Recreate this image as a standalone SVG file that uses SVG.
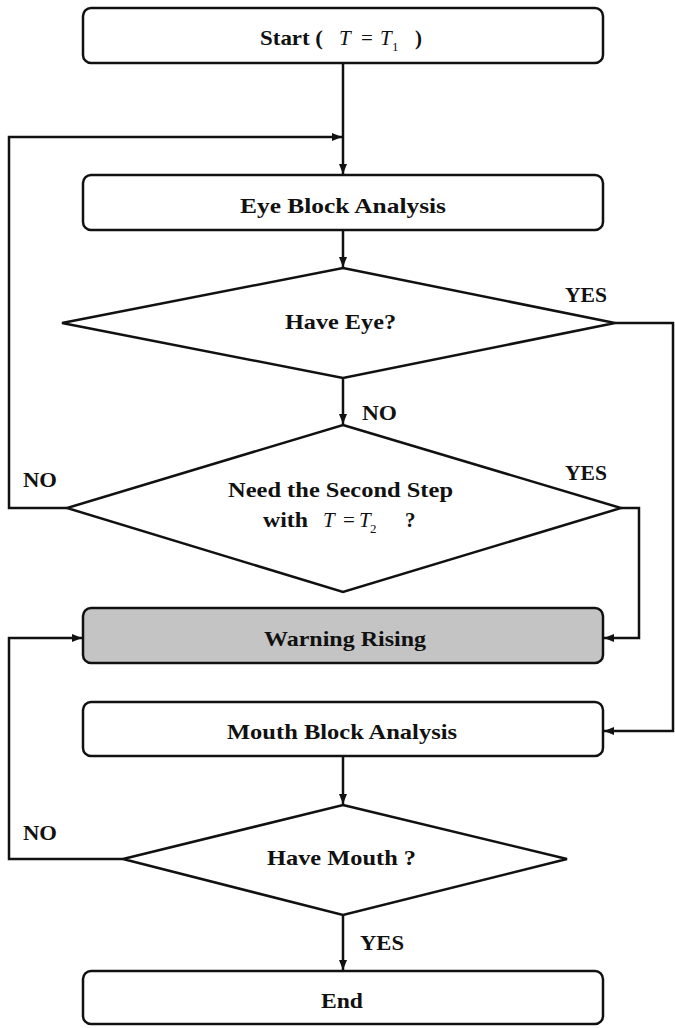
<svg xmlns="http://www.w3.org/2000/svg" width="675" height="1028" viewBox="0 0 675 1028">
<style>
.box{fill:#fff;stroke:#111;stroke-width:2.5}
.grey{fill:#c4c4c4}
.dia{fill:#fff;stroke:#111;stroke-width:2.5;stroke-linejoin:miter}
.c{fill:none;stroke:#111;stroke-width:2.5}
.t{font-family:"Liberation Serif","Times New Roman",serif;font-weight:bold;font-size:21px;fill:#111}
.i{font-style:italic;font-weight:normal}
.n{font-weight:normal}
.s{font-size:13px;font-weight:normal}
</style>
<defs>
<marker id="ah" viewBox="0 0 10 10" refX="10" refY="5" markerWidth="10" markerHeight="10" markerUnits="userSpaceOnUse" orient="auto">
<path d="M0,1 L10,5 L0,9 z" fill="#111"/>
</marker>
</defs>
<rect width="675" height="1028" fill="#fff"/>
<g id="connectors">
<path class="c" d="M343,63 V174" marker-end="url(#ah)"/>
<path class="c" d="M67,508 H9 V137 H342" marker-end="url(#ah)"/>
<path class="c" d="M343,230 V267" marker-end="url(#ah)"/>
<path class="c" d="M343,378 V424" marker-end="url(#ah)"/>
<path class="c" d="M615,323 H673 V731 H604" marker-end="url(#ah)"/>
<path class="c" d="M621,508 H639 V638 H604" marker-end="url(#ah)"/>
<path class="c" d="M343,756 V804" marker-end="url(#ah)"/>
<path class="c" d="M123,859 H9 V638 H82" marker-end="url(#ah)"/>
<path class="c" d="M343,915 V970" marker-end="url(#ah)"/>
<text class="t" x="362" y="420" textLength="35" lengthAdjust="spacingAndGlyphs">NO</text>
<text class="t" x="565" y="302" textLength="42" lengthAdjust="spacingAndGlyphs">YES</text>
<text class="t" x="565" y="480" textLength="42" lengthAdjust="spacingAndGlyphs">YES</text>
<text class="t" x="23" y="487" textLength="34" lengthAdjust="spacingAndGlyphs">NO</text>
<text class="t" x="23" y="840" textLength="34" lengthAdjust="spacingAndGlyphs">NO</text>
<text class="t" x="360" y="950" textLength="44" lengthAdjust="spacingAndGlyphs">YES</text>
</g>
<g id="start">
<rect class="box" x="83" y="8" width="520" height="55" rx="8"/>
<text class="t" x="260" y="45" textLength="63" lengthAdjust="spacingAndGlyphs">Start (</text>
<text class="t i" x="339" y="45">T</text>
<text class="t n" x="361" y="45">=</text>
<text class="t i" x="380" y="45">T</text>
<text class="t s" x="392" y="51">1</text>
<text class="t" x="415" y="45">)</text>
</g>
<g id="eye-block">
<rect class="box" x="83" y="175" width="520" height="55" rx="8"/>
<text class="t" x="240" y="213" textLength="206" lengthAdjust="spacingAndGlyphs">Eye Block Analysis</text>
</g>
<g id="have-eye">
<polygon class="dia" points="343,268 615,323 343,378 62,323"/>
<text class="t" x="285" y="329" textLength="111" lengthAdjust="spacingAndGlyphs">Have Eye?</text>
</g>
<g id="second-step">
<polygon class="dia" points="343,425 621,508 343,592 67,508"/>
<text class="t" x="228" y="497" textLength="225" lengthAdjust="spacingAndGlyphs">Need the Second Step</text>
<text class="t" x="263" y="527" textLength="45" lengthAdjust="spacingAndGlyphs">with</text>
<text class="t i" x="323" y="527">T</text>
<text class="t n" x="343" y="527">=</text>
<text class="t i" x="359" y="527">T</text>
<text class="t s" x="370" y="533">2</text>
<text class="t" x="405" y="527">?</text>
</g>
<g id="warning">
<rect class="box grey" x="83" y="608" width="520" height="55" rx="8"/>
<text class="t" x="264" y="646" textLength="162" lengthAdjust="spacingAndGlyphs">Warning Rising</text>
</g>
<g id="mouth-block">
<rect class="box" x="83" y="702" width="520" height="54" rx="8"/>
<text class="t" x="227" y="739" textLength="230" lengthAdjust="spacingAndGlyphs">Mouth Block Analysis</text>
</g>
<g id="have-mouth">
<polygon class="dia" points="343,805 567,859 343,915 123,859"/>
<text class="t" x="267" y="865" textLength="149" lengthAdjust="spacingAndGlyphs">Have Mouth ?</text>
</g>
<g id="end">
<rect class="box" x="83" y="971" width="520" height="53" rx="8"/>
<text class="t" x="321" y="1008" textLength="42" lengthAdjust="spacingAndGlyphs">End</text>
</g>
</svg>
